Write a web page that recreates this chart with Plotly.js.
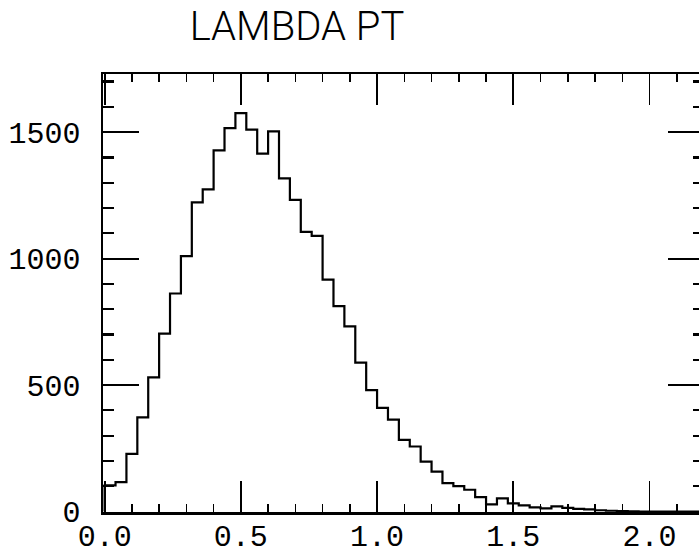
<!DOCTYPE html>
<html>
<head>
<meta charset="utf-8">
<script src="https://cdn.plot.ly/plotly-3.0.1.min.js"></script>
<style>
html,body{margin:0;padding:0;overflow:hidden;background:#fff;width:699px;height:558px;}
#chart{width:706px;height:558px;}
</style>
</head>
<body>
<div id="chart"></div>
<script>
// Histogram of LAMBDA PT: bins of width 0.04 starting at 0.0
var binStart = 0.0;
var binWidth = 0.04;
var counts = [
  103, 116, 228, 372, 530, 703, 862, 1010, 1222, 1274,
  1428, 1516, 1575, 1510, 1415, 1503, 1317, 1232, 1106, 1090,
  917, 812, 732, 589, 480, 410, 363, 283, 257, 197,
  158, 112, 100, 86, 57, 28, 52, 32, 24, 16,
  12, 20, 14, 10, 8, 5, 3, 2, 1, 0,
  0, 0, 0, 0, 0
];
var xTickVals = [0, 0.5, 1.0, 1.5, 2.0];
var xTickText = ["0.0", "0.5", "1.0", "1.5", "2.0"];
var yTickVals = [0, 500, 1000, 1500];
var yTickText = ["0", "500", "1000", "1500"];

// step outline built from the bin edges
var xs = [binStart], ys = [0];
for (var i = 0; i < counts.length; i++) {
  xs.push(binStart + i * binWidth);
  ys.push(counts[i]);
}
xs.push(binStart + counts.length * binWidth);
ys.push(counts[counts.length - 1]);

var trace = {
  type: 'scatter', mode: 'lines',
  x: xs, y: ys,
  line: {shape: 'hv', color: '#000', width: 2.2},
  hoverinfo: 'skip', showlegend: false
};

var tickFont = {family: 'Liberation Mono, Courier New, monospace', size: 30, color: '#000'};

var layout = {
  width: 706, height: 558,
  margin: {l: 103, r: 2, t: 74, b: 46, pad: 0},
  paper_bgcolor: '#fff', plot_bgcolor: '#fff',
  showlegend: false,
  title: {
    text: 'LAMBDA PT',
    font: {family: 'Roboto, Liberation Sans, sans-serif', size: 40, weight: 300, color: '#000'},
    xref: 'container', yref: 'container',
    x: 297 / 706, xanchor: 'center',
    y: 1 - 26 / 558, yanchor: 'middle'
  },
  xaxis: {
    range: [-0.006, 2.2],
    showgrid: false, zeroline: false,
    showline: true, linecolor: '#000', linewidth: 2.5,
    mirror: 'allticks',
    ticks: 'inside', ticklen: 31, tickwidth: 1.8, tickcolor: '#000',
    tickvals: xTickVals, ticktext: xTickText,
    tickfont: tickFont,
    ticklabelstandoff: -5,
    minor: {dtick: 0.1, tick0: 0, ticks: 'inside', ticklen: 8, tickwidth: 1.5, tickcolor: '#000', showgrid: false}
  },
  yaxis: {
    range: [-2, 1730],
    showgrid: false, zeroline: false,
    showline: true, linecolor: '#000', linewidth: 2.5,
    mirror: 'allticks',
    ticks: 'inside', ticklen: 36, tickwidth: 2.2, tickcolor: '#000',
    tickvals: yTickVals, ticktext: yTickText,
    tickfont: tickFont,
    ticklabelstandoff: 14,
    minor: {dtick: 100, tick0: 0, ticks: 'inside', ticklen: 11, tickwidth: 2.2, tickcolor: '#000', showgrid: false}
  }
};

Plotly.newPlot('chart', [trace], layout, {staticPlot: true, displayModeBar: false});
</script>
</body>
</html>
